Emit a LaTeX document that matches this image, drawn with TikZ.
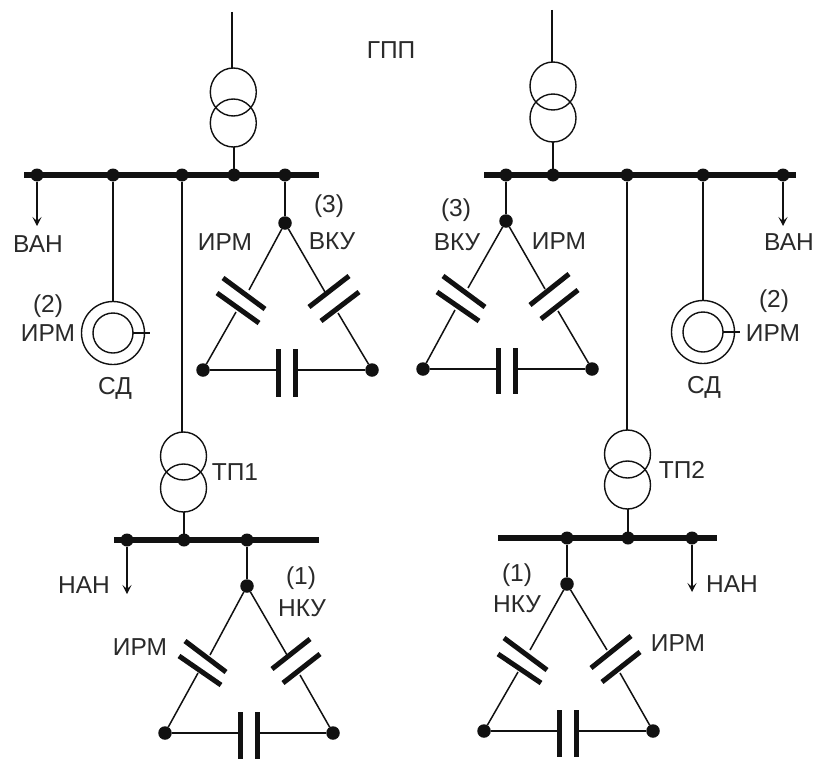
\documentclass[tikz,border=0pt]{standalone}
\usepackage{fontspec}
\setmainfont{Liberation Sans}
\usetikzlibrary{arrows.meta,shapes.geometric}
\definecolor{ink}{HTML}{111111}
\definecolor{txt}{HTML}{2A2A2A}
\tikzset{
  wire/.style={draw=ink,line width=1.9pt},
  thin wire/.style={draw=ink,line width=1.5pt},
  bus/.style={draw=ink,line width=5.8pt},
  plate/.style={draw=ink,line width=5pt},
  feed/.style={draw=ink,line width=1.9pt,-{Stealth[length=9pt,width=9pt,inset=4pt]}},
  busdot/.style={circle,fill=ink,inner sep=0pt,outer sep=0pt,minimum size=13pt},
  nodedot/.style={circle,fill=ink,inner sep=0pt,outer sep=0pt,minimum size=13.5pt},
  coil/.style={ellipse,draw=ink,line width=1.4pt,inner sep=0pt,outer sep=0pt,minimum width=46pt,minimum height=48pt},
  ring/.style={circle,draw=ink,line width=1.4pt,inner sep=0pt,outer sep=0pt},
  lab/.style={text=txt,inner sep=0pt,font=\fontsize{24.5}{26}\selectfont}
}
% name, plate 1 ends, plate 2 ends, wire ends on the two plates, from-node, to-node
\newcommand{\capleg}[9]{
  \coordinate (#1p1a) at #2; \coordinate (#1p1b) at #3;
  \coordinate (#1p2a) at #4; \coordinate (#1p2b) at #5;
  \coordinate (#1w1) at #6; \coordinate (#1w2) at #7;
  \draw[plate] (#1p1a) -- (#1p1b);
  \draw[plate] (#1p2a) -- (#1p2b);
  \draw[thin wire] (#8) -- (#1w1);
  \draw[thin wire] (#1w2) -- (#9);
}
\begin{document}
\begin{tikzpicture}[x=1pt,y=-1pt]
\useasboundingbox (0,0) rectangle (816,760);
\fill[white] (0,0) rectangle (816,760);

% ---------- left main section ----------
\coordinate (lin) at (232,12);
\node[coil] (t1a) at (233.3,92) {};
\node[coil] (t1b) at (233.3,123) {};
\coordinate (lbusL) at (24,175); \coordinate (lbusR) at (319,175);
\draw[bus] (lbusL) -- (lbusR);
\node[busdot] (l1) at (37,175) {};
\node[busdot] (l2) at (113,175) {};
\node[busdot] (l3) at (182,175) {};
\node[busdot] (l4) at (234,175) {};
\node[busdot] (l5) at (285,175) {};
\draw[wire] (lin) -- (lin |- t1a.north);
\draw[wire] (l4 |- t1b.south) -- (l4);
\coordinate (lvan) at (37,226);
\draw[feed] (l1) -- (lvan);
\node[ring,minimum size=63pt] (sd1o) at (113,333) {};
\node[ring,minimum size=40pt] (sd1i) at (113,333) {};
\coordinate (sd1t) at (150,333);
\draw[wire] (l2) -- (sd1o.north);
\draw[wire] (sd1i.east) -- (sd1t);
\node[nodedot] (la) at (285,223) {};
\node[nodedot] (lb) at (203,370) {};
\node[nodedot] (lc) at (372,370) {};
\draw[wire] (l5) -- (la);
\capleg{lx}{(223,278)}{(265,309)}{(217,293)}{(259,323)}{(249,290)}{(236,312)}{la}{lb}
\capleg{ly}{(349,276)}{(309,307)}{(359,292)}{(321,321)}{(325,292)}{(338,313)}{la}{lc}
\coordinate (lz1a) at (278,349); \coordinate (lz1b) at (278,397);
\coordinate (lz2a) at (295,349); \coordinate (lz2b) at (295,397);
\draw[plate] (lz1a) -- (lz1b); \draw[plate] (lz2a) -- (lz2b);
\draw[wire] (lb) -- (lb -| lz1a); \draw[wire] (lb -| lz2a) -- (lc);

% ---------- TP1 ----------
\node[coil] (tp1a) at (183.5,456) {};
\node[coil] (tp1b) at (183.5,488) {};
\draw[wire] (l3) -- (l3 |- tp1a.north);
\coordinate (tbusL) at (114,540); \coordinate (tbusR) at (319,540);
\draw[bus] (tbusL) -- (tbusR);
\node[busdot] (b1) at (127,540) {};
\node[busdot] (b2) at (184,540) {};
\node[busdot] (b3) at (247,540) {};
\draw[wire] (b2 |- tp1b.south) -- (b2);
\coordinate (bnan) at (127,594);
\draw[feed] (b1) -- (bnan);
\node[nodedot] (ba) at (247,586) {};
\node[nodedot] (bb) at (165,733) {};
\node[nodedot] (bc) at (333,733) {};
\draw[wire] (b3) -- (ba);
\capleg{bx}{(185,641)}{(226,672)}{(179,656)}{(221,685)}{(210,655)}{(198,673)}{ba}{bb}
\capleg{by}{(310,639)}{(272,669)}{(320,654)}{(283,683)}{(287,655)}{(300,675)}{ba}{bc}
\coordinate (bz1a) at (240,712); \coordinate (bz1b) at (240,759);
\coordinate (bz2a) at (257,712); \coordinate (bz2b) at (257,759);
\draw[plate] (bz1a) -- (bz1b); \draw[plate] (bz2a) -- (bz2b);
\draw[wire] (bb) -- (bb -| bz1a); \draw[wire] (bb -| bz2a) -- (bc);

% ---------- right main section ----------
\coordinate (rin) at (552,10);
\node[coil] (t2a) at (553,86) {};
\node[coil] (t2b) at (553,118) {};
\coordinate (rbusL) at (484,175); \coordinate (rbusR) at (796,175);
\draw[bus] (rbusL) -- (rbusR);
\node[busdot] (r1) at (506,175) {};
\node[busdot] (r2) at (553,175) {};
\node[busdot] (r3) at (627,175) {};
\node[busdot] (r4) at (703,175) {};
\node[busdot] (r5) at (783,175) {};
\draw[wire] (rin) -- (rin |- t2a.north);
\draw[wire] (r2 |- t2b.south) -- (r2);
\coordinate (rvan) at (783,226);
\draw[feed] (r5) -- (rvan);
\node[ring,minimum size=63pt] (sd2o) at (703,332) {};
\node[ring,minimum size=40pt] (sd2i) at (703,332) {};
\coordinate (sd2t) at (740,332);
\draw[wire] (r4) -- (sd2o.north);
\draw[wire] (sd2i.east) -- (sd2t);
\node[nodedot] (ra) at (506,221) {};
\node[nodedot] (rb) at (423,369) {};
\node[nodedot] (rc) at (592,369) {};
\draw[wire] (r1) -- (ra);
\capleg{rx}{(443,276)}{(485,307)}{(437,292)}{(479,321)}{(468,288)}{(455,310)}{ra}{rb}
\capleg{ry}{(569,274)}{(530,305)}{(578,290)}{(541,319)}{(545,289)}{(558,311)}{ra}{rc}
\coordinate (rz1a) at (498,348); \coordinate (rz1b) at (498,394);
\coordinate (rz2a) at (515,348); \coordinate (rz2b) at (515,394);
\draw[plate] (rz1a) -- (rz1b); \draw[plate] (rz2a) -- (rz2b);
\draw[wire] (rb) -- (rb -| rz1a); \draw[wire] (rb -| rz2a) -- (rc);

% ---------- TP2 ----------
\node[coil] (tp2a) at (627.5,454) {};
\node[coil] (tp2b) at (627.5,485) {};
\draw[wire] (r3) -- (r3 |- tp2a.north);
\coordinate (ubusL) at (498,538); \coordinate (ubusR) at (717,538);
\draw[bus] (ubusL) -- (ubusR);
\node[busdot] (u1) at (567,538) {};
\node[busdot] (u2) at (628,538) {};
\node[busdot] (u3) at (692,538) {};
\draw[wire] (u2 |- tp2b.south) -- (u2);
\coordinate (unan) at (692,592);
\draw[feed] (u3) -- (unan);
\node[nodedot] (ua) at (567,584) {};
\node[nodedot] (ub) at (484,731) {};
\node[nodedot] (uc) at (653,731) {};
\draw[wire] (u1) -- (ua);
\capleg{ux}{(504,638)}{(547,670)}{(498,654)}{(541,683)}{(530,650)}{(518,672)}{ua}{ub}
\capleg{uy}{(631,636)}{(591,668)}{(640,652)}{(602,682)}{(607,650)}{(620,673)}{ua}{uc}
\coordinate (uz1a) at (559,710); \coordinate (uz1b) at (559,757);
\coordinate (uz2a) at (576,710); \coordinate (uz2b) at (576,757);
\draw[plate] (uz1a) -- (uz1b); \draw[plate] (uz2a) -- (uz2b);
\draw[wire] (ub) -- (ub -| uz1a); \draw[wire] (ub -| uz2a) -- (uc);

% ---------- labels ----------
\node[lab] (gpp) at (391,50) {ГПП};
\node[lab] (tvan1) at (38,244) {ВАН};
\node[lab] (tvan2) at (789,242) {ВАН};
\node[lab] (n21) at (48,306) {(2)};
\node[lab] (i21) at (48,333) {ИРМ};
\node[lab] (s1) at (115,388) {СД};
\node[lab] (n22) at (774,301) {(2)};
\node[lab] (i22) at (773,333) {ИРМ};
\node[lab] (s2) at (704,387) {СД};
\node[lab] (n31) at (329,206) {(3)};
\node[lab] (v1) at (332,241) {ВКУ};
\node[lab] (i31) at (225,242) {ИРМ};
\node[lab] (n32) at (456,210) {(3)};
\node[lab] (v2) at (457,242) {ВКУ};
\node[lab] (i32) at (559,241) {ИРМ};
\node[lab] (tp1) at (235,472) {ТП1};
\node[lab] (tp2) at (682,470) {ТП2};
\node[lab] (nan1) at (84,585) {НАН};
\node[lab] (nan2) at (732,584) {НАН};
\node[lab] (n11) at (301,578) {(1)};
\node[lab] (k1) at (302,608) {НКУ};
\node[lab] (i11) at (140,647) {ИРМ};
\node[lab] (n12) at (517,575) {(1)};
\node[lab] (k2) at (517,604) {НКУ};
\node[lab] (i12) at (678,643) {ИРМ};
\end{tikzpicture}
\end{document}
